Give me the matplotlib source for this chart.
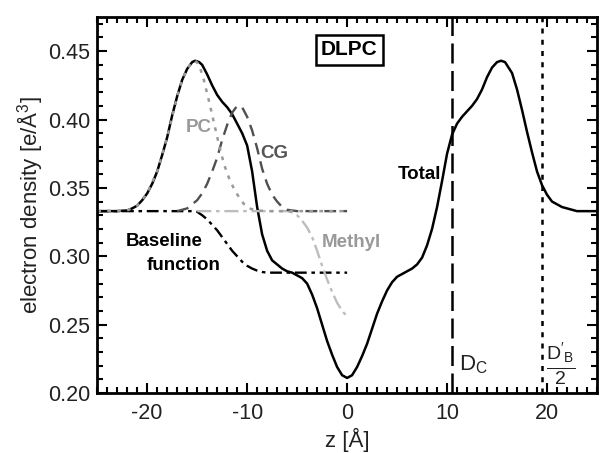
import numpy as np
import matplotlib.pyplot as plt
from matplotlib.ticker import MultipleLocator

plt.rcParams['font.family'] = ['Liberation Sans', 'DejaVu Sans']
plt.rcParams['mathtext.default'] = 'regular'
plt.rcParams['axes.unicode_minus'] = False

# total electron density profile
total_z = [-25, -23, -22, -21.5, -21, -20.5, -20, -19.5, -19, -18.5, -18, -17.5, -17,
           -16.5, -16, -15.5, -15.2, -14.8, -14.5, -14, -13.5, -13, -12.5, -12, -11.5,
           -11, -10.5, -10, -9.5, -9, -8.5, -8, -7.5, -7, -6.5, -6, -5.5, -5, -4.5, -4,
           -3.5, -3, -2.5, -2, -1.5, -1, -0.5, 0,
           0.5, 1, 1.5, 2, 2.5, 3, 3.5, 4, 4.5, 5, 5.5, 6, 6.5, 7, 7.5, 8, 8.5, 9, 9.5,
           10, 10.5, 11, 11.5, 12, 12.5, 13, 13.5, 14, 14.5, 15, 15.4, 15.8, 16.5, 17,
           17.5, 18, 18.5, 19, 19.5, 20, 20.5, 21, 21.5, 22, 23, 25]
total_rho = [0.333, 0.333, 0.3335, 0.335, 0.337, 0.341, 0.346, 0.353, 0.362, 0.374, 0.387,
             0.403, 0.417, 0.429, 0.437, 0.442, 0.443, 0.442, 0.440, 0.433, 0.425, 0.418,
             0.413, 0.409, 0.404, 0.397, 0.390, 0.381, 0.362, 0.336, 0.316, 0.304, 0.297,
             0.294, 0.291, 0.289, 0.288, 0.286, 0.284, 0.280, 0.272, 0.262, 0.250, 0.238,
             0.228, 0.219, 0.213, 0.211,
             0.213, 0.219, 0.227, 0.236, 0.247, 0.258, 0.267, 0.275, 0.281, 0.285, 0.287,
             0.289, 0.291, 0.294, 0.299, 0.308, 0.320, 0.336, 0.355, 0.375, 0.389, 0.397,
             0.402, 0.406, 0.410, 0.415, 0.422, 0.431, 0.438, 0.442, 0.443, 0.442, 0.434,
             0.422, 0.407, 0.391, 0.376, 0.362, 0.352, 0.345, 0.340, 0.338, 0.336, 0.335,
             0.333, 0.333]

# PC headgroup component
pc_z = [-25, -22, -21, -20, -19, -18, -17, -16.5, -16, -15.5, -15.2, -14.8, -14.3, -13.8,
        -13.3, -12.8, -12.3, -11.8, -11.3, -10.8, -10.3, -9.8, -9, -8, 0]
pc_rho = [0.333, 0.3335, 0.337, 0.346, 0.362, 0.387, 0.417, 0.429, 0.437, 0.442, 0.443,
          0.440, 0.428, 0.413, 0.397, 0.381, 0.367, 0.357, 0.349, 0.343, 0.338, 0.335,
          0.3335, 0.333, 0.333]

# CG (glycerol) component
cg_z = [-17, -16, -15, -14.5, -14, -13.5, -13, -12.5, -12, -11.5, -11, -10.5, -10, -9.5,
        -9, -8.5, -8, -7.5, -7, -6.5, -6, -5, 0]
cg_rho = [0.333, 0.335, 0.341, 0.346, 0.353, 0.362, 0.372, 0.385, 0.396, 0.405, 0.410,
          0.409, 0.402, 0.392, 0.379, 0.364, 0.353, 0.345, 0.340, 0.336, 0.334, 0.333, 0.333]

# methyl trough component
me_z = [-15, -6, -5.5, -5, -4.5, -4, -3.5, -3, -2.5, -2, -1.5, -1, -0.5, 0]
me_rho = [0.333, 0.333, 0.332, 0.330, 0.326, 0.321, 0.314, 0.304, 0.293, 0.283, 0.274,
          0.266, 0.260, 0.256]

# baseline function
bl_z = [-25, -15.5, -15, -14.5, -14, -13.5, -13, -12.5, -12, -11.5, -11, -10.5, -10, -9.5,
        -9, -8.5, -8, 0]
bl_rho = [0.333, 0.333, 0.3325, 0.330, 0.327, 0.323, 0.319, 0.314, 0.309, 0.304, 0.300,
          0.296, 0.293, 0.291, 0.2895, 0.2885, 0.288, 0.288]

d_c = 10.5
d_b_half = 19.5

fig = plt.figure(figsize=(6.0, 4.53), dpi=100)
ax = fig.add_axes([0.162, 0.1325, 0.833, 0.83])

ax.plot(total_z, total_rho, color='black', lw=1.8)
ax.plot(bl_z, bl_rho, color='black', lw=1.7, ls=(0, (5, 2, 1.5, 2)))
ax.plot(me_z, me_rho, color='#bdbdbd', lw=1.7, ls=(0, (6, 2, 1.5, 2)))
ax.plot(cg_z, cg_rho, color='#505050', lw=1.7, ls=(0, (5, 3)))
ax.plot(pc_z, pc_rho, color='#9a9a9a', lw=1.8, ls=(0, (1.5, 2.5)))

ax.axvline(d_c, color='black', lw=1.8, ls=(0, (8, 3)))
ax.axvline(d_b_half, color='black', lw=1.8, ls=(0, (2, 2.5)))

ax.set_xlim(-25, 25)
ax.set_ylim(0.2, 0.475)
ax.xaxis.set_major_locator(MultipleLocator(10))
ax.xaxis.set_minor_locator(MultipleLocator(1))
ax.yaxis.set_major_locator(MultipleLocator(0.05))
ax.yaxis.set_minor_locator(MultipleLocator(0.01))
ax.yaxis.set_major_formatter(plt.FormatStrFormatter('%.2f'))
ax.tick_params(which='both', direction='in', top=True, right=True, width=1.5,
               labelsize=15.5, colors='black', labelcolor='#222222')
ax.tick_params(which='major', length=7)
ax.tick_params(which='minor', length=4)
ax.tick_params(axis='x', pad=7)
ax.tick_params(axis='y', pad=5)
for s in ax.spines.values():
    s.set_linewidth(2)

ax.set_xlabel('z [Å]', fontsize=16, color='#222222', labelpad=3)
ax.set_ylabel('electron density [e/Å$^3$]', fontsize=16, color='#222222', labelpad=2)

ax.text(-14.8, 0.394, 'PC', color='#999999', fontsize=13.5, fontweight='bold',
        ha='center', va='center')
ax.text(-7.3, 0.3755, 'CG', color='#555555', fontsize=13.5, fontweight='bold',
        ha='center', va='center')
ax.text(0.4, 0.310, 'Methyl', color='#999999', fontsize=13.5, fontweight='bold',
        ha='center', va='center')
ax.text(7.2, 0.3595, 'Total', color='black', fontsize=13.5, fontweight='bold',
        ha='center', va='center')
ax.text(-18.3, 0.3105, 'Baseline', color='black', fontsize=13.5, fontweight='bold',
        ha='center', va='center')
ax.text(-16.4, 0.2935, 'function', color='black', fontsize=13.5, fontweight='bold',
        ha='center', va='center')
ax.text(0.2, 0.451, 'DLPC', color='black', fontsize=15, fontweight='bold', ha='center',
        va='center', bbox=dict(boxstyle='square,pad=0.25', fc='white', ec='black', lw=1.8))
ax.text(d_c + 0.7, 0.2125, '$D_C$', fontsize=16, color='#222222', va='bottom')
ax.text(d_b_half + 0.4, 0.221, r"$\frac{D'_B}{2}$", fontsize=20, color='#222222',
        va='center')

fig.savefig('out.png', dpi=100)
